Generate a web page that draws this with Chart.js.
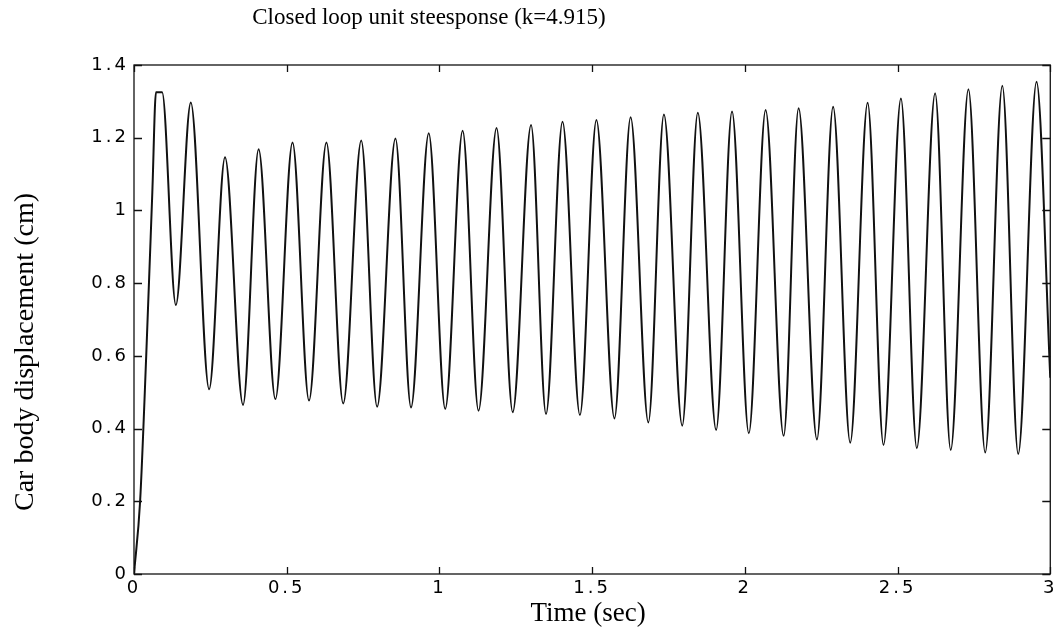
<!DOCTYPE html>
<html>
<head>
<meta charset="utf-8">
<title>Closed loop unit step response</title>
<script src="https://cdn.jsdelivr.net/npm/chart.js@4.4.1/dist/chart.umd.min.js"></script>
<style>
  html, body { margin: 0; padding: 0; background: #fff; }
  canvas { display: block; }
</style>
</head>
<body>
<canvas id="resp" width="1060" height="629"></canvas>
<script>
// Step response: start, rise, then peaks / troughs (sec, cm)
const timeSec = [
  0, 0.02, 0.04, 0.06, 0.072, 0.092,
  0.137, 0.186, 0.246, 0.298, 0.357, 0.408, 0.463, 0.519, 0.573, 0.630,
  0.685, 0.744, 0.796, 0.856, 0.907, 0.965, 1.019, 1.076, 1.128, 1.187,
  1.240, 1.300, 1.349, 1.403, 1.460, 1.514, 1.573, 1.626, 1.684, 1.735,
  1.795, 1.846, 1.906, 1.958, 2.013, 2.068, 2.127, 2.176, 2.236, 2.289,
  2.345, 2.402, 2.454, 2.511, 2.563, 2.623, 2.674, 2.732, 2.787, 2.843,
  2.895, 2.955, 3.0
];
const displacement = [
  0, 0.20, 0.60, 1.05, 1.325, 1.325,
  0.740, 1.297, 0.508, 1.146, 0.465, 1.168, 0.481, 1.187, 0.477, 1.187,
  0.469, 1.192, 0.460, 1.198, 0.458, 1.212, 0.454, 1.219, 0.449, 1.227,
  0.445, 1.235, 0.440, 1.244, 0.437, 1.249, 0.428, 1.256, 0.417, 1.264,
  0.408, 1.269, 0.396, 1.272, 0.387, 1.276, 0.380, 1.281, 0.370, 1.285,
  0.361, 1.296, 0.355, 1.308, 0.346, 1.322, 0.341, 1.333, 0.334, 1.343,
  0.330, 1.354, 0.54
];
const xTicks = [0, 0.5, 1, 1.5, 2, 2.5, 3];
const yTicks = [0, 0.2, 0.4, 0.6, 0.8, 1, 1.2, 1.4];

const titleText = 'Closed loop unit steesponse (k=4.915)';
const xLabel = 'Time (sec)';
const yLabel = 'Car body displacement (cm)';

const points = timeSec.map((t, i) => ({ x: t, y: displacement[i] }));

// matlab-ish frame: box + inward ticks on all four sides, plus the titles
const frameAndTitles = {
  id: 'frameAndTitles',
  beforeDraw(chart) {
    // wide spaced tick digits like the original
    chart.ctx.letterSpacing = '3px';
  },
  afterDraw(chart) {
    const ctx = chart.ctx;
    const a = chart.chartArea;
    const xs = chart.scales.x, ys = chart.scales.y;
    ctx.save();
    ctx.letterSpacing = '0px';
    ctx.strokeStyle = '#111';
    ctx.lineWidth = 1.3;
    ctx.strokeRect(a.left, a.top, a.right - a.left, a.bottom - a.top);
    ctx.beginPath();
    xTicks.forEach(v => {
      const px = Math.round(xs.getPixelForValue(v)) + 0.5;
      ctx.moveTo(px, a.bottom); ctx.lineTo(px, a.bottom - 7);
      ctx.moveTo(px, a.top); ctx.lineTo(px, a.top + 7);
    });
    yTicks.forEach(v => {
      const py = Math.round(ys.getPixelForValue(v)) + 0.5;
      ctx.moveTo(a.left, py); ctx.lineTo(a.left + 8, py);
      ctx.moveTo(a.right, py); ctx.lineTo(a.right - 8, py);
    });
    ctx.stroke();

    ctx.fillStyle = '#000';
    ctx.textAlign = 'center';
    ctx.textBaseline = 'middle';
    ctx.font = '23px "Liberation Serif", "Times New Roman", serif';
    ctx.fillText(titleText, 429, 18);
    ctx.font = '27px "Liberation Serif", "Times New Roman", serif';
    ctx.fillText(xLabel, 588, 614);
    ctx.translate(26, 352);
    ctx.rotate(-Math.PI / 2);
    ctx.font = '28px "Liberation Serif", "Times New Roman", serif';
    ctx.fillText(yLabel, 0, 0);
    ctx.restore();
  }
};

const tickFont = { family: "'DejaVu Sans', sans-serif", size: 18 };

new Chart(document.getElementById('resp'), {
  type: 'line',
  data: {
    datasets: [{
      data: points,
      borderColor: '#111',
      borderWidth: 2,
      pointRadius: 0,
      cubicInterpolationMode: 'monotone',
      fill: false
    }]
  },
  options: {
    responsive: false,
    animation: false,
    layout: { padding: { left: 0, right: 8, top: 65, bottom: 0 } },
    plugins: { legend: { display: false }, tooltip: { enabled: false }, title: { display: false } },
    scales: {
      x: {
        type: 'linear',
        min: 0, max: 3,
        grid: { display: false, drawTicks: false },
        border: { display: false },
        afterBuildTicks: s => { s.ticks = xTicks.map(v => ({ value: v })); },
        afterFit: s => { s.height = 55; },
        ticks: { color: '#000', font: tickFont, padding: 4, maxRotation: 0, callback: v => String(v) }
      },
      y: {
        type: 'linear',
        min: 0, max: 1.4,
        grid: { display: false, drawTicks: false },
        border: { display: false },
        afterBuildTicks: s => { s.ticks = yTicks.map(v => ({ value: v })); },
        afterFit: s => { s.width = 134; },
        ticks: { color: '#000', font: tickFont, padding: 5, callback: v => String(v) }
      }
    }
  },
  plugins: [frameAndTitles]
});
</script>
</body>
</html>
